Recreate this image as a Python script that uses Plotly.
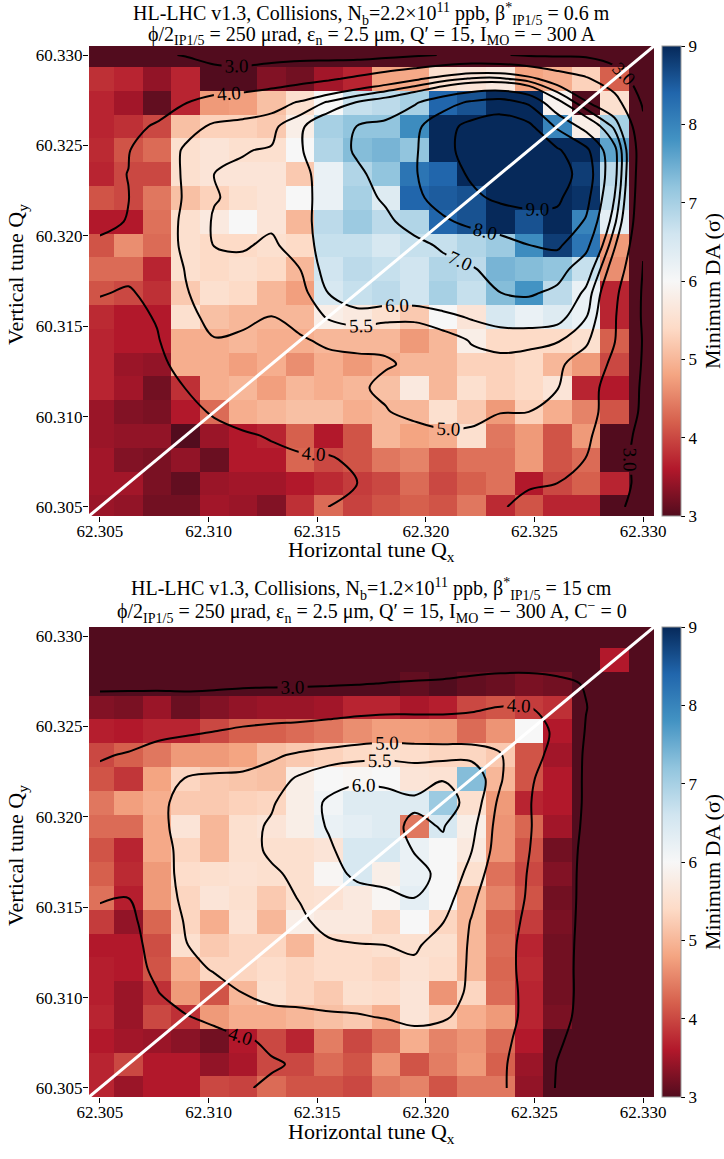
import numpy as np
import plotly.graph_objects as go

W, H = 724, 1159
SERIF = "Liberation Serif"

# Tune scan grid (20 x 20 working points)
qx = np.linspace(62.305, 62.330, 20)
qy = np.linspace(60.305, 60.330, 20)

x_ticks = [62.305, 62.310, 62.315, 62.320, 62.325, 62.330]
y_ticks = [60.305, 60.310, 60.315, 60.320, 60.325, 60.330]
cb_ticks = [3, 4, 5, 6, 7, 8, 9]

# Minimum DA (sigma); rows run from Qy = 60.330 (top) down to Qy = 60.305
da_beta60 = [
    [2.9, 2.9, 2.9, 2.9, 2.6, 2.6, 2.6, 2.6, 2.6, 2.2, 2.2, 2.2, 2.2, 2.4, 2.2, 2.2, 2.2, 2.2, 2.2, 2.0],
    [3.8, 3.7, 3.4, 3.7, 2.9, 2.9, 3.3, 3.2, 3.5, 3.7, 4.8, 4.85, 5.5, 5.6, 5.7, 4.8, 4.9, 5.3, 4.2, 2.0],
    [3.7, 3.5, 3.1, 3.7, 4.7, 4.75, 5.1, 5.5, 6.0, 6.7, 6.8, 7.0, 8.4, 8.6, 9.5, 9.4, 5.9, 3.0, 5.5, 2.0],
    [3.7, 3.8, 4.0, 5.1, 5.3, 5.3, 5.2, 5.8, 7.0, 7.2, 7.2, 7.9, 9.0, 9.6, 9.8, 9.7, 8.0, 5.8, 7.0, 2.0],
    [3.75, 4.1, 4.3, 5.5, 5.6, 5.5, 5.5, 6.0, 6.9, 7.3, 7.4, 7.2, 9.3, 9.2, 9.8, 9.9, 9.6, 9.2, 7.6, 2.0],
    [3.7, 4.0, 4.0, 5.5, 5.6, 5.6, 5.6, 5.2, 6.2, 6.9, 7.2, 8.2, 8.4, 9.2, 9.9, 9.8, 9.6, 8.8, 6.8, 2.0],
    [4.1, 4.0, 4.4, 5.1, 5.3, 5.5, 5.6, 6.0, 6.2, 7.0, 6.4, 8.4, 8.5, 8.6, 9.3, 9.1, 9.5, 8.9, 6.7, 2.0],
    [3.6, 3.6, 4.35, 5.5, 5.7, 6.0, 5.6, 5.0, 6.8, 7.1, 6.8, 6.9, 8.4, 8.6, 9.0, 8.6, 9.0, 8.0, 6.3, 2.2],
    [4.1, 4.6, 4.3, 5.5, 5.4, 5.4, 5.5, 5.4, 6.7, 6.7, 6.5, 6.7, 6.7, 6.9, 7.1, 7.9, 8.8, 8.2, 4.7, 2.4],
    [4.3, 4.3, 3.7, 5.5, 5.4, 5.5, 5.4, 5.0, 6.6, 6.8, 6.7, 6.6, 6.9, 6.8, 7.4, 7.3, 7.2, 6.7, 4.6, 2.5],
    [4.1, 4.0, 3.8, 5.2, 5.5, 5.4, 5.0, 4.75, 6.5, 6.7, 6.8, 6.6, 7.0, 6.7, 7.3, 7.8, 6.8, 6.2, 3.7, 2.6],
    [3.75, 3.6, 3.6, 5.5, 5.1, 5.0, 5.0, 5.0, 5.8, 5.7, 5.5, 5.2, 6.0, 5.6, 6.5, 6.2, 6.4, 6.2, 3.7, 2.6],
    [3.7, 3.6, 3.6, 4.9, 4.9, 5.0, 4.9, 4.9, 5.0, 5.0, 5.0, 4.7, 5.0, 5.8, 5.4, 5.4, 5.4, 5.5, 4.2, 2.6],
    [3.7, 3.45, 3.4, 4.9, 4.9, 4.75, 4.9, 4.6, 4.9, 4.7, 4.9, 5.0, 5.0, 5.3, 5.3, 5.4, 5.0, 4.7, 4.0, 2.6],
    [3.7, 3.5, 3.2, 3.8, 4.9, 5.0, 4.75, 5.0, 4.9, 5.0, 5.1, 5.7, 5.0, 5.5, 5.3, 5.4, 5.6, 3.7, 3.6, 2.6],
    [3.45, 3.3, 3.25, 3.6, 4.3, 4.9, 5.0, 5.1, 5.1, 4.9, 5.0, 5.0, 5.5, 5.2, 4.7, 5.3, 4.9, 4.5, 4.1, 2.6],
    [3.45, 3.4, 3.4, 2.95, 3.45, 3.6, 3.7, 4.2, 3.6, 4.1, 5.0, 4.8, 4.9, 5.5, 4.4, 4.7, 4.1, 4.7, 3.0, 2.6],
    [3.5, 3.3, 3.25, 3.4, 3.15, 3.6, 3.6, 4.25, 4.0, 4.1, 4.4, 4.5, 4.1, 4.35, 4.35, 4.7, 4.1, 4.3, 2.9, 2.6],
    [3.5, 3.5, 3.25, 3.1, 3.45, 3.5, 3.5, 3.6, 3.75, 3.9, 4.0, 4.3, 4.0, 4.2, 4.35, 3.6, 4.0, 4.2, 3.7, 2.6],
    [3.45, 3.4, 3.2, 3.2, 3.5, 3.45, 3.3, 3.8, 4.3, 3.95, 4.1, 4.2, 4.1, 4.4, 3.75, 4.1, 3.7, 3.7, 2.9, 2.6],
]

da_beta15 = [
    [2.4, 2.4, 2.4, 2.4, 2.4, 2.4, 2.4, 2.4, 2.4, 2.4, 2.4, 2.4, 2.4, 2.4, 2.4, 2.4, 2.4, 2.4, 2.4, 2.4],
    [2.6, 2.6, 2.6, 2.6, 2.6, 2.6, 2.6, 2.6, 2.6, 2.6, 2.6, 2.6, 2.6, 2.6, 2.6, 2.6, 2.6, 2.6, 3.6, 2.4],
    [2.8, 2.8, 2.8, 2.8, 2.8, 2.8, 2.8, 2.8, 2.8, 2.8, 2.85, 3.1, 2.9, 3.1, 3.15, 3.25, 3.2, 3.0, 2.6, 2.4],
    [3.3, 3.25, 3.45, 3.15, 3.3, 3.4, 3.45, 3.45, 3.5, 3.7, 3.7, 3.55, 3.65, 4.0, 4.1, 3.9, 3.8, 3.0, 2.6, 2.4],
    [3.65, 3.6, 3.7, 3.7, 4.0, 4.2, 4.2, 4.3, 4.4, 4.6, 4.75, 4.75, 4.7, 4.3, 4.65, 6.0, 3.6, 2.8, 2.5, 2.4],
    [4.0, 4.2, 4.4, 4.7, 4.7, 4.8, 5.1, 5.2, 5.3, 5.4, 5.5, 5.45, 5.35, 5.35, 5.2, 4.1, 3.5, 2.8, 2.5, 2.4],
    [4.1, 3.85, 4.8, 5.35, 5.2, 5.15, 5.1, 5.8, 6.0, 5.95, 6.0, 5.6, 5.55, 7.3, 5.0, 4.1, 3.6, 2.8, 2.5, 2.4],
    [4.4, 4.75, 4.9, 5.2, 5.2, 5.3, 5.35, 5.8, 6.1, 6.4, 6.4, 6.4, 7.1, 5.5, 4.7, 3.7, 3.6, 2.8, 2.5, 2.4],
    [4.3, 4.3, 4.85, 5.6, 5.0, 5.5, 5.6, 5.8, 6.2, 6.3, 6.4, 4.4, 6.5, 5.8, 4.65, 4.25, 3.5, 2.8, 2.5, 2.4],
    [4.1, 3.7, 4.85, 5.35, 5.0, 5.5, 5.5, 5.5, 5.6, 6.5, 6.5, 6.2, 6.0, 5.7, 4.65, 4.1, 3.2, 2.8, 2.5, 2.4],
    [4.2, 3.75, 4.7, 5.45, 5.5, 5.55, 5.5, 5.5, 5.95, 6.5, 5.8, 6.2, 6.0, 5.5, 4.35, 4.0, 3.3, 2.8, 2.5, 2.4],
    [4.35, 3.65, 4.7, 5.35, 5.6, 5.5, 5.2, 5.5, 5.55, 5.7, 5.95, 6.3, 6.0, 5.0, 4.5, 4.1, 3.2, 2.8, 2.5, 2.4],
    [3.9, 3.4, 4.25, 5.35, 4.9, 5.55, 5.0, 5.8, 5.7, 5.7, 5.35, 6.0, 5.35, 5.0, 4.25, 3.9, 3.25, 2.8, 2.5, 2.4],
    [3.6, 3.6, 4.05, 5.5, 5.2, 5.35, 5.35, 5.0, 5.45, 5.45, 5.5, 5.5, 5.5, 5.0, 4.3, 3.7, 3.2, 2.8, 2.5, 2.4],
    [3.65, 3.6, 4.1, 4.9, 5.35, 5.35, 5.45, 5.35, 5.45, 5.45, 5.35, 5.55, 5.45, 5.0, 4.25, 3.75, 3.2, 2.8, 2.5, 2.4],
    [3.65, 3.45, 3.8, 4.7, 4.1, 5.0, 5.5, 5.35, 5.2, 5.5, 5.45, 5.6, 4.65, 5.35, 4.3, 3.7, 3.2, 2.8, 2.5, 2.4],
    [3.7, 3.45, 4.0, 3.8, 4.7, 4.9, 4.9, 5.0, 5.1, 5.2, 4.9, 5.6, 5.3, 4.9, 4.7, 3.7, 3.25, 2.8, 2.5, 2.4],
    [3.6, 3.5, 3.45, 3.35, 3.2, 3.6, 4.0, 3.7, 4.45, 4.0, 4.3, 4.9, 4.5, 4.65, 4.3, 3.6, 2.9, 2.8, 2.5, 2.4],
    [3.7, 4.0, 3.6, 3.6, 3.4, 3.55, 4.0, 4.0, 4.3, 4.1, 4.65, 4.1, 4.45, 4.7, 4.2, 3.45, 2.85, 2.7, 2.5, 2.4],
    [3.7, 3.45, 3.6, 3.6, 4.0, 3.95, 4.3, 4.1, 4.1, 4.0, 4.4, 4.5, 4.1, 4.4, 4.4, 3.4, 2.85, 2.7, 2.5, 2.4],
]

levels_beta60 = [3.0, 4.0, 5.0, 5.5, 6.0, 7.0, 8.0, 9.0]
levels_beta15 = [3.0, 4.0, 5.0, 5.5, 6.0]

titles_beta60 = [
    "HL-LHC v1.3, Collisions, N<sub>b</sub>=2.2\u00d710<sup>11</sup> ppb, \u03b2<sup>*</sup><sub>IP1/5</sub> = 0.6 m",
    "\u03d5/2<sub>IP1/5</sub> = 250 \u03bcrad, \u03b5<sub>n</sub> = 2.5 \u03bcm, Q\u2032 = 15, I<sub>MO</sub> = \u2212 300 A",
]
titles_beta15 = [
    "HL-LHC v1.3, Collisions, N<sub>b</sub>=1.2\u00d710<sup>11</sup> ppb, \u03b2<sup>*</sup><sub>IP1/5</sub> = 15 cm",
    "\u03d5/2<sub>IP1/5</sub> = 250 \u03bcrad, \u03b5<sub>n</sub> = 2.5 \u03bcm, Q\u2032 = 15, I<sub>MO</sub> = \u2212 300 A, C<sup>\u2212</sup> = 0",
]

# Diverging red-white-blue map (RdBu)
rdbu_colors = ["#520c1e", "#b2182b", "#d6604d", "#f4a582", "#fddbc7", "#f7f7f7",
               "#d1e5f0", "#92c5de", "#4393c3", "#2166ac", "#06295a"]
rdbu = [[i / (len(rdbu_colors) - 1), c] for i, c in enumerate(rdbu_colors)]

qx_range = [62.3045, 62.3305]
qy_range = [60.3045, 60.3305]


def smooth(z):
    """3x3 binomial smoothing used for the iso-DA lines."""
    k = np.array([1.0, 2.0, 1.0]) / 4.0
    zp = np.pad(z, 1, mode="edge")
    rows = k[0] * zp[:, :-2] + k[1] * zp[:, 1:-1] + k[2] * zp[:, 2:]
    return k[0] * rows[:-2, :] + k[1] * rows[1:-1, :] + k[2] * rows[2:, :]


# panel geometry in pixels
x_left_px, x_right_px = 89, 654
panels = [
    dict(z=da_beta60, levels=levels_beta60, titles=titles_beta60,
         top=46, bottom=516, title_y=[14, 36], xlabel_y=551, ax=""),
    dict(z=da_beta15, levels=levels_beta15, titles=titles_beta15,
         top=627, bottom=1097, title_y=[589, 612], xlabel_y=1133, ax="2"),
]

fig = go.Figure()
layout = dict(
    width=W, height=H, margin=dict(l=0, r=0, t=0, b=0, autoexpand=False),
    paper_bgcolor="white", plot_bgcolor="white", showlegend=False,
    font=dict(family=SERIF, size=17, color="black"),
)
annotations = []
cx = (x_left_px + x_right_px) / 2 / W
tick_font = dict(family=SERIF, size=17, color="black")

for p in panels:
    xa, ya = "x" + p["ax"], "y" + p["ax"]
    z = np.array(p["z"])[::-1]
    zc = smooth(z)
    y0 = 1 - p["bottom"] / H
    y1 = 1 - p["top"] / H
    fig.add_trace(go.Heatmap(
        x=qx, y=qy, z=z, zmin=3, zmax=9, colorscale=rdbu, xaxis=xa, yaxis=ya,
        hoverinfo="skip",
        colorbar=dict(
            x=(662 - 10) / W, xanchor="left", xpad=10,
            y=(y0 + y1) / 2, yanchor="middle", len=y1 - y0, lenmode="fraction", ypad=0,
            thickness=19, thicknessmode="pixels",
            outlinewidth=1, outlinecolor="#999999",
            tickvals=cb_ticks, ticks="outside", ticklen=4, tickcolor="black",
            tickfont=tick_font,
        ),
    ))
    for lv in p["levels"]:
        fig.add_trace(go.Contour(
            x=qx, y=qy, z=zc, xaxis=xa, yaxis=ya, showscale=False, hoverinfo="skip",
            contours=dict(coloring="none", start=lv, end=lv, size=0.5,
                          showlabels=True, labelformat=".1f",
                          labelfont=dict(family=SERIF, size=19, color="black")),
            line=dict(color="black", width=2),
        ))
    # diagonal Qx - Qy = 2
    fig.add_trace(go.Scatter(
        x=qx_range, y=qy_range, mode="lines", xaxis=xa, yaxis=ya,
        line=dict(color="white", width=3), hoverinfo="skip",
    ))

    layout["xaxis" + p["ax"]] = dict(
        domain=[x_left_px / W, x_right_px / W], anchor=ya, range=qx_range,
        tickvals=x_ticks, ticktext=[f"{v:.3f}" for v in x_ticks],
        ticks="outside", ticklen=5, tickcolor="black", showgrid=False, zeroline=False,
        tickfont=tick_font, ticklabelstandoff=-5,
    )
    layout["yaxis" + p["ax"]] = dict(
        domain=[y0, y1], anchor=xa, range=qy_range,
        tickvals=y_ticks, ticktext=[f"{v:.3f}" for v in y_ticks],
        ticks="outside", ticklen=5, tickcolor="black", showgrid=False, zeroline=False,
        tickfont=tick_font, ticklabelstandoff=-3,
    )
    for k, t in enumerate(p["titles"]):
        annotations.append(dict(
            text=t, xref="paper", yref="paper", x=cx, y=1 - p["title_y"][k] / H,
            xanchor="center", yanchor="middle", showarrow=False,
            font=dict(family=SERIF, size=20, color="black"),
        ))
    annotations.append(dict(
        text="Horizontal tune Q<sub>x</sub>", xref="paper", yref="paper",
        x=cx, y=1 - p["xlabel_y"] / H, xanchor="center", yanchor="middle",
        showarrow=False, font=dict(family=SERIF, size=22, color="black"),
    ))
    annotations.append(dict(
        text="Vertical tune Q<sub>y</sub>", xref="paper", yref="paper", textangle=-90,
        x=17 / W, y=(y0 + y1) / 2 + 6 / H, xanchor="center", yanchor="middle",
        showarrow=False, font=dict(family=SERIF, size=22, color="black"),
    ))
    annotations.append(dict(
        text="Minimum DA (\u03c3)", xref="paper", yref="paper", textangle=-90,
        x=712 / W, y=(y0 + y1) / 2 - 10 / H, xanchor="center", yanchor="middle",
        showarrow=False, font=dict(family=SERIF, size=22, color="black"),
    ))

layout["annotations"] = annotations
fig.update_layout(**layout)
fig.write_html("out.html")
